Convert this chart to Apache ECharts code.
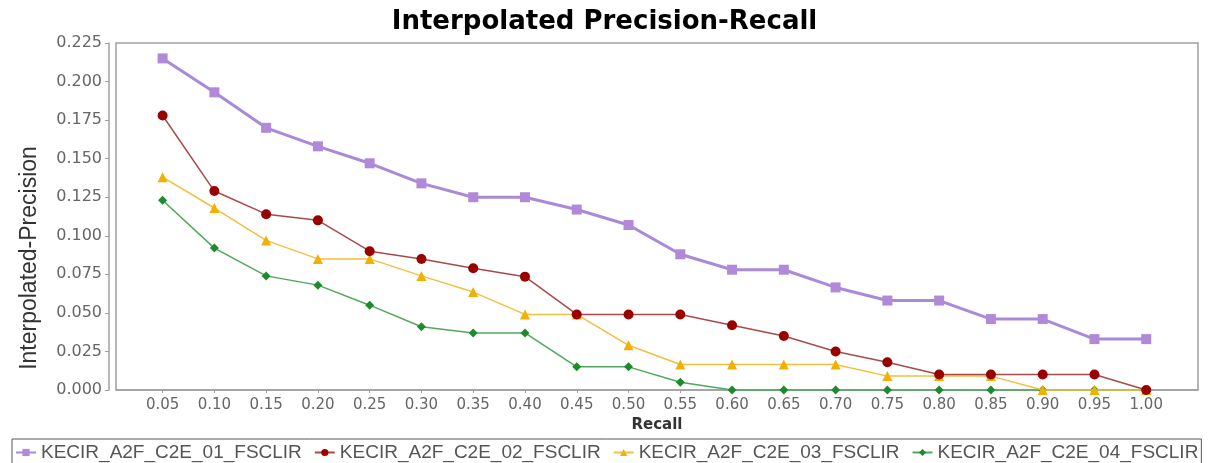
<!DOCTYPE html>
<html>
<head>
<meta charset="utf-8">
<script src="https://cdn.jsdelivr.net/npm/echarts@6/dist/echarts.min.js"></script>
<style>html,body{margin:0;padding:0;background:#fff;}#c{width:1209px;height:463px;}</style>
</head>
<body>
<div id="c"></div>
<script>
var recall = [0.05,0.10,0.15,0.20,0.25,0.30,0.35,0.40,0.45,0.50,0.55,0.60,0.65,0.70,0.75,0.80,0.85,0.90,0.95,1.00];
var seriesNames = ['KECIR_A2F_C2E_01_FSCLIR','KECIR_A2F_C2E_02_FSCLIR','KECIR_A2F_C2E_03_FSCLIR','KECIR_A2F_C2E_04_FSCLIR'];
var run01 = [0.215,0.193,0.170,0.158,0.147,0.134,0.125,0.125,0.117,0.107,0.088,0.078,0.078,0.0665,0.058,0.058,0.046,0.046,0.033,0.033];
var run02 = [0.178,0.129,0.114,0.110,0.090,0.085,0.079,0.0735,0.049,0.049,0.049,0.042,0.035,0.025,0.018,0.010,0.010,0.010,0.010,0.000];
var run03 = [0.138,0.118,0.097,0.085,0.085,0.074,0.0635,0.049,0.049,0.029,0.0165,0.0165,0.0165,0.0165,0.009,0.009,0.009,0.000,0.000,0.000];
var run04 = [0.123,0.092,0.074,0.068,0.055,0.041,0.037,0.037,0.015,0.015,0.005,0.000,0.000,0.000,0.000,0.000,0.000,0.000,0.000,0.000];

function pairs(vals){ return recall.map(function(r,i){ return [r, vals[i]]; }); }

var chart = echarts.init(document.getElementById('c'), null, {renderer:'canvas'});
var styles = [
  {data: run01, symbol:'rect', size:10, mc:'#b08ad9', lc:'#a98ad8', lw:3, z:5},
  {data: run02, symbol:'circle', size:10, mc:'#990000', lc:'#a84a4a', lw:1.5, z:4},
  {data: run03, symbol:'triangle', size:10, mc:'#f2b000', lc:'#f0c040', lw:1.5, z:3},
  {data: run04, symbol:'diamond', size:9, mc:'#1e8a2e', lc:'#50a85c', lw:1.5, z:2}
];
var series = styles.map(function(s, i){
  return {
    name: seriesNames[i], type:'line', data: pairs(s.data),
    symbol: s.symbol, symbolSize: s.size, showSymbol:true,
    itemStyle:{color:s.mc}, lineStyle:{color:s.lc, width:s.lw},
    z: s.z, clip:false
  };
});
chart.setOption({
  animation:false,
  backgroundColor:'#fff',
  title:{
    text:'Interpolated Precision-Recall', left:'center', top:4,
    textStyle:{fontFamily:'DejaVu Sans', fontWeight:'bold', fontSize:26, color:'#000'}
  },
  grid:{left:116, right:11, top:43, bottom:73, show:true, borderColor:'#a0a0a0', borderWidth:1.5, backgroundColor:'#fff', containLabel:false},
  xAxis:{
    type:'value', min:0.005, max:1.05, offset:3,
    name:'Recall', nameLocation:'middle', nameGap:25,
    nameTextStyle:{fontFamily:'DejaVu Sans', fontWeight:'bold', fontSize:15, color:'#333'},
    axisLine:{show:true, lineStyle:{color:'#a0a0a0', width:1.5}},
    axisTick:{show:true, length:3, customValues:recall, lineStyle:{color:'#a0a0a0'}},
    axisLabel:{customValues:recall, formatter:function(v){return v.toFixed(2);}, color:'#666', fontFamily:'DejaVu Sans', fontSize:15, margin:5},
    splitLine:{show:false}
  },
  yAxis:{
    type:'value', min:0, max:0.225, interval:0.025, offset:7,
    axisLine:{show:true, lineStyle:{color:'#a0a0a0', width:1.5}},
    axisTick:{show:true, length:4, lineStyle:{color:'#a0a0a0'}},
    axisLabel:{formatter:function(v){return v.toFixed(3);}, color:'#666', fontFamily:'DejaVu Sans', fontSize:16, margin:7},
    splitLine:{show:false}
  },
  graphic:[{
    type:'text', x:30, y:258, rotation:Math.PI/2,
    style:{text:'Interpolated-Precision', fill:'#333', font:'23px "Liberation Sans"', align:'center', verticalAlign:'middle'}
  }],
  legend:{
    data: seriesNames, left:12, top:439, width:1190, orient:'horizontal',
    itemWidth:20, itemHeight:9, itemGap:12,
    padding:[4,3,9,3], borderColor:'#555', borderWidth:1,
    textStyle:{fontFamily:'Liberation Sans', fontSize:19, color:'#555'}
  },
  series: series
});
</script>
</body>
</html>
